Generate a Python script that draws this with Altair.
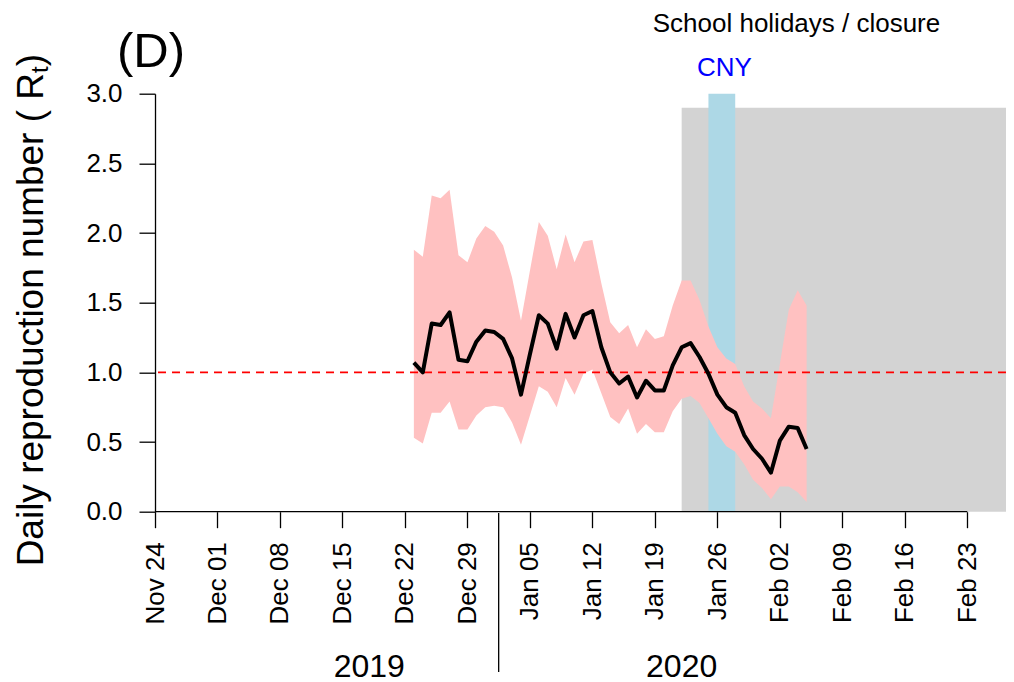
import altair as alt
import pandas as pd

FONT = "Liberation Sans"

# ---- data ----
dates = list(pd.date_range("2019-12-23", "2020-02-05", freq="D").strftime("%Y-%m-%d"))
rt_mean = [1.07, 1.00, 1.35, 1.34, 1.43, 1.09, 1.08, 1.22, 1.30, 1.29, 1.24, 1.10, 0.84, 1.13,
           1.41, 1.35, 1.17, 1.42, 1.25, 1.41, 1.44, 1.18, 1.00, 0.92, 0.97, 0.82, 0.94, 0.87,
           0.87, 1.05, 1.18, 1.21, 1.11, 0.99, 0.84, 0.75, 0.71, 0.55, 0.45, 0.38, 0.28, 0.51,
           0.61, 0.60, 0.45]
rt_upper = [1.88, 1.83, 2.27, 2.25, 2.31, 1.84, 1.79, 1.96, 2.05, 2.01, 1.91, 1.68, 1.37, 1.73,
            2.08, 1.98, 1.74, 1.99, 1.79, 1.94, 1.95, 1.64, 1.36, 1.28, 1.34, 1.18, 1.31, 1.24,
            1.26, 1.48, 1.66, 1.66, 1.52, 1.33, 1.18, 1.10, 1.06, 0.90, 0.79, 0.74, 0.67, 1.06,
            1.45, 1.59, 1.48]
rt_lower = [0.53, 0.49, 0.71, 0.71, 0.79, 0.59, 0.59, 0.69, 0.75, 0.76, 0.75, 0.64, 0.48, 0.69,
            0.90, 0.86, 0.75, 0.96, 0.84, 0.99, 1.02, 0.85, 0.68, 0.63, 0.74, 0.56, 0.63, 0.57,
            0.57, 0.72, 0.81, 0.83, 0.78, 0.67, 0.56, 0.47, 0.43, 0.34, 0.23, 0.17, 0.09, 0.18,
            0.18, 0.14, 0.07]

tick_dates = ["2019-11-24", "2019-12-01", "2019-12-08", "2019-12-15", "2019-12-22",
              "2019-12-29", "2020-01-05", "2020-01-12", "2020-01-19", "2020-01-26",
              "2020-02-02", "2020-02-09", "2020-02-16", "2020-02-23"]
y_ticks = [0.0, 0.5, 1.0, 1.5, 2.0, 2.5, 3.0]

x_domain_start = "2019-11-24"
x_domain_end = "2020-02-27T08:00:00"

shade_names = ["School holidays / closure", "CNY"]
shade_start = ["2020-01-22", "2020-01-25"]
shade_end = [x_domain_end, "2020-01-28"]
shade_top = [2.9, 3.0]
shade_colors = ["#D3D3D3", "#ADD8E6"]

year_labels = ["2019", "2020"]
year_pos = ["2019-12-18", "2020-01-22"]
year_divider = ["2020-01-01T12:00:00"]


def dt(s):
    day, _, tm = s.partition("T")
    y, m, d = day.split("-")
    hours = int(tm.split(":")[0]) if tm else 0
    return alt.DateTime(year=int(y), month=int(m), date=int(d), hours=hours, utc=True)


df = pd.DataFrame({"date": dates, "mean": rt_mean, "upper": rt_upper, "lower": rt_lower})
shades = pd.DataFrame({"name": shade_names, "start": shade_start, "end": shade_end,
                       "top": shade_top, "bottom": [0.0, 0.0]})
years = pd.DataFrame({"label": year_labels, "pos": year_pos})
divider = pd.DataFrame({"pos": year_divider})
xaxis_line = pd.DataFrame({"start": [tick_dates[0]], "end": [tick_dates[-1]], "y": [0.0]})

xscale = alt.Scale(type="utc", domain=[dt(x_domain_start), dt(x_domain_end)])
yscale = alt.Scale(domain=[0, 3], nice=False, zero=False)

x_axis = alt.Axis(values=[dt(s) for s in tick_dates], format="%b %d", title=None,
                  labelAngle=270, labelAlign="right", labelBaseline="middle",
                  labelPadding=14, tickSize=16, tickWidth=1.3, tickColor="black",
                  domain=False, grid=False, labelFont=FONT, labelFontSize=26,
                  labelColor="black", labelOverlap=False, labelBound=False, labelFlush=False)
y_axis = alt.Axis(values=y_ticks, format=".1f", title=None, tickSize=16, tickWidth=1.3,
                  tickColor="black", domainColor="black", domainWidth=1.3, grid=False,
                  labelFont=FONT, labelFontSize=26, labelColor="black", labelPadding=17,
                  labelOverlap=False, labelBound=False, labelFlush=False)


def X(field):
    return alt.X(field, scale=xscale, axis=x_axis)


def Y(field):
    return alt.Y(field, scale=yscale, axis=y_axis)


rects = alt.Chart(shades).mark_rect().encode(
    x=X("start:T"), x2="end:T",
    y=Y("bottom:Q"), y2="top:Q",
    color=alt.Color("name:N", scale=alt.Scale(domain=shade_names, range=shade_colors), legend=None),
)

ribbon = alt.Chart(df).mark_area(color="#FFC1C1", opacity=1).encode(
    x=X("date:T"), y=Y("upper:Q"), y2="lower:Q",
)

ref = alt.Chart(pd.DataFrame({"y": [1.0]})).mark_rule(
    color="red", strokeDash=[8, 6], strokeWidth=1.6
).encode(y=Y("y:Q"))

line = alt.Chart(df).mark_line(color="black", strokeWidth=4, strokeJoin="round").encode(
    x=X("date:T"), y=Y("mean:Q"),
)

xline = alt.Chart(xaxis_line).mark_rule(color="black", strokeWidth=1.3).encode(
    x=X("start:T"), x2="end:T", y=Y("y:Q"),
)

div_rule = alt.Chart(divider).mark_rule(color="black", strokeWidth=1.3).encode(
    x=X("pos:T"),
    y=alt.value(419.3), y2=alt.value(578.3),
)

year_text = alt.Chart(years).mark_text(font=FONT, fontSize=32, align="center",
                                        baseline="alphabetic", color="black").encode(
    x=X("pos:T"),
    y=alt.value(583.3),
    text="label:N",
)

one = pd.DataFrame({"a": [0]})


def label(txt, x, y, size, color="black", align="left", angle=0):
    return alt.Chart(one).mark_text(font=FONT, fontSize=size, color=color, align=align,
                                    baseline="alphabetic", angle=angle).encode(
        x=alt.value(x), y=alt.value(y), text=alt.value(txt))


title1 = label("Daily reproduction number ( R", -112, -20.7, 37, align="right", angle=270)
title2 = label("t", -107, -20.7, 24, align="left", angle=270)
title3 = label(")", -112, -27.5, 37, align="left", angle=270)
panel = label("(D)", -38, -26.7, 49)
school = label("School holidays / closure", 641.5, -61.7, 26, align="center")
cny = label("CNY", 569.5, -17.7, 26, color="#0000FF", align="center")

chart = alt.layer(
    rects, ribbon, ref, line, xline, div_rule, year_text,
    title1, title2, title3, panel, school, cny
).properties(
    width=851, height=418,
    padding={"left": 147, "top": 85.7, "right": 0, "bottom": 180},
    autosize=alt.AutoSizeParams(type="none"),
    background="white",
).configure_view(stroke=None)

chart.save("out.html", embed_options={"renderer": "svg", "actions": False})
